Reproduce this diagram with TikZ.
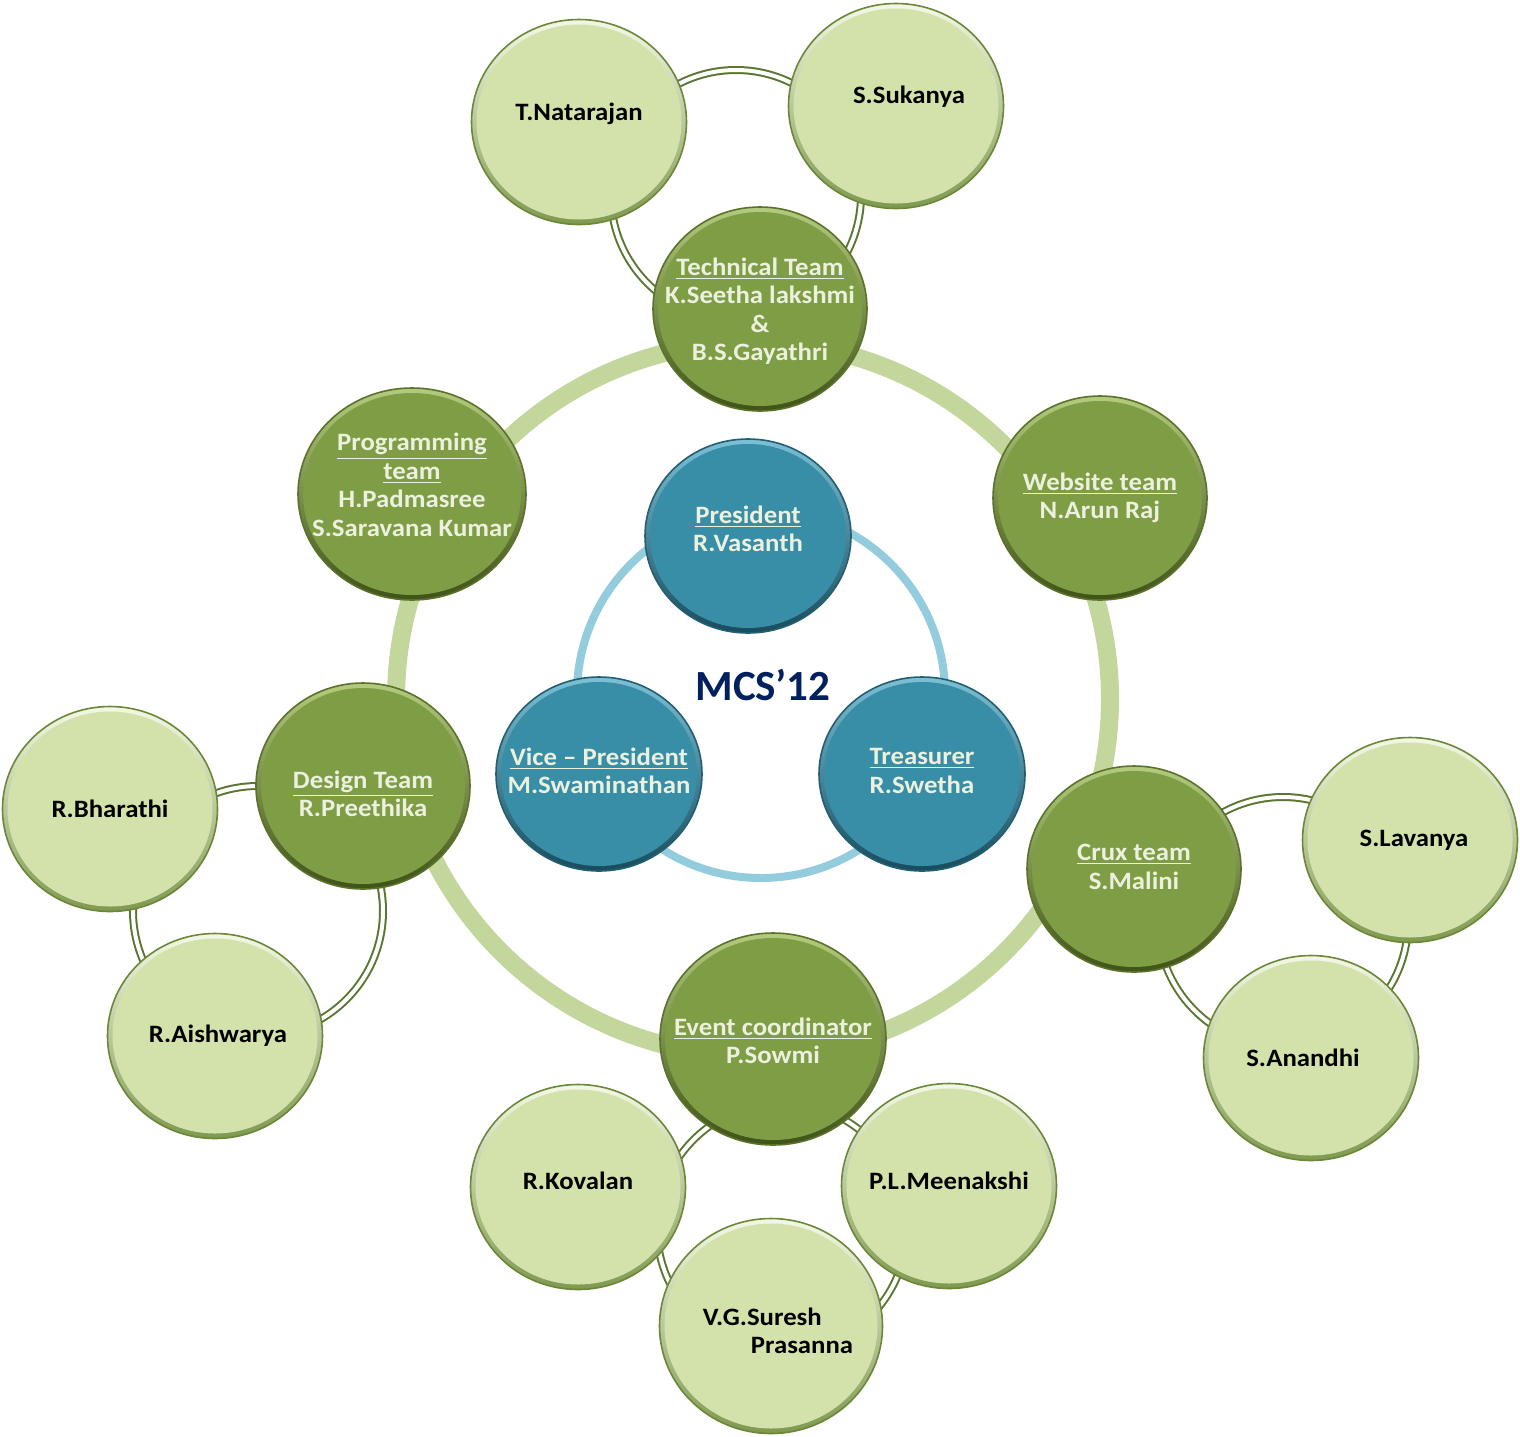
\documentclass[tikz,border=0pt]{standalone}
\usepackage{fontspec}
\setmainfont{Carlito}
\newfontfamily\namefont{Carlito}[FakeStretch=1.07, Ligatures=TeX]
\usetikzlibrary{shapes.geometric,calc}

\definecolor{ringgreen}{HTML}{C3D69B}
\definecolor{ringblue}{HTML}{93CDDD}
\definecolor{linkgreen}{HTML}{5B7630}
\definecolor{leadfill}{HTML}{7F9D44}
\definecolor{leadtop}{HTML}{B3CB7E}
\definecolor{leadbot}{HTML}{3F5219}
\definecolor{leadedge}{HTML}{5A7328}
\definecolor{memberfill}{HTML}{D3E2AA}
\definecolor{membertop}{HTML}{F3F8E6}
\definecolor{memberbot}{HTML}{7F9950}
\definecolor{memberedge}{HTML}{6C8737}
\definecolor{officefill}{HTML}{388DA7}
\definecolor{officetop}{HTML}{7CC0D6}
\definecolor{officebot}{HTML}{184C5C}
\definecolor{officeedge}{HTML}{235F72}
\definecolor{paletext}{HTML}{EBF1DE}
\definecolor{navy}{HTML}{002060}

\tikzset{
  ball/.style n args={4}{ellipse, inner sep=0pt, draw=#4, line width=0.8pt, fill=#1,
    path picture={
      \shade[top color=#2, bottom color=#3] (path picture bounding box.south west)
        rectangle (path picture bounding box.north east);
      \fill[#1] let \p1=(path picture bounding box.south west),
        \p2=(path picture bounding box.north east) in
        ($(\p1)!.5!(\p2)$) ellipse [x radius={(\x2-\x1)/2-2.5pt}, y radius={(\y2-\y1)/2-2.5pt}];
    }},
  leadball/.style={ball={leadfill}{leadtop}{leadbot}{leadedge}},
  memberball/.style={ball={memberfill}{membertop}{memberbot}{memberedge},
    minimum width=107.5pt, minimum height=102.5pt},
  officeball/.style={ball={officefill}{officetop}{officebot}{officeedge},
    minimum width=103pt, minimum height=97pt},
  nametext/.style={inner sep=0pt, align=center,
    font=\namefont\fontsize{12.5}{14.25}\selectfont\bfseries},
  leadtext/.style={nametext, text=paletext},
  membertext/.style={nametext, text=black},
  link/.style={draw=linkgreen, line width=1pt, double=white, double distance=2pt},
}

\begin{document}
\begin{tikzpicture}[x=0.5pt, y=-0.5pt]
    \fill[white] (0,0) rectangle (1520,1436);
    \useasboundingbox (0,0) rectangle (1520,1436);

    % centres of the rings
    \coordinate (hub) at (753,699);
    \coordinate (core) at (761,694);
    \coordinate (techring) at (736,195);
    \coordinate (designring) at (258,911);
    \coordinate (cruxring) at (1283,922);
    \coordinate (eventring) at (782,1228);

    % rings behind the circles
    \draw[ringgreen, line width=9pt] (hub) circle [radius=357];
    \draw[ringblue, line width=4pt] (core) circle [radius=184];
    \foreach \c in {techring, designring, cruxring, eventring}
        \draw[link] (\c) circle [radius=125];

    % office bearers (blue)
    \foreach \name/\x/\y/\dy/\txt in {
        pres/748/536/3.5/{\underline{President}\\R.Vasanth},
        vice/599/774/1.5/{\underline{Vice -- President}\\M.Swaminathan},
        treas/922/774/1.5/{\underline{Treasurer}\\R.Swetha}%
    }{
        \node[officeball] (\name) at (\x,\y) {};
        \node[leadtext] (\name-txt) at ([yshift=\dy pt]\name.center) {\txt};
    }

    \node[font=\fontsize{21.5}{26}\selectfont\bfseries, text=navy] (title) at (763,685) {MCS’12};

    % team leads (dark green)
    \foreach \name/\x/\y/\w/\h/\dy/\txt in {
        tech/760/309/107/102/-1/{\underline{Technical Team}\\K.Seetha lakshmi\\\&\\B.S.Gayathri},
        prog/412/494/114/106/4.5/{\underline{Programming}\\\underline{team}\\H.Padmasree\\S.Saravana Kumar},
        web/1100/498/107/102/0/{\underline{Website team}\\N.Arun Raj},
        design/363/786/107/103/-4/{\underline{Design Team}\\R.Preethika},
        crux/1134/869/107/103/1/{\underline{Crux team}\\S.Malini},
        event/773/1039/113/106/-1/{\underline{Event coordinator}\\P.Sowmi}%
    }{
        \node[leadball, minimum width=\w pt, minimum height=\h pt] (\name) at (\x,\y) {};
        \node[leadtext] (\name-txt) at ([yshift=\dy pt]\name.center) {\txt};
    }

    % team members (light green)
    \foreach \name/\x/\y/\dx/\dy/\txt in {
        natarajan/579/122/0/4/T.Natarajan,
        sukanya/896/106/6.5/4.5/S.Sukanya,
        bharathi/110/809/0/0/R.Bharathi,
        aishwarya/215/1036/1.5/0/R.Aishwarya,
        lavanya/1410/840/2/0/S.Lavanya,
        anandhi/1311/1058/-4/0/S.Anandhi,
        kovalan/578/1187/0/3/R.Kovalan,
        meenakshi/949/1186/0/2.5/P.L.Meenakshi%
    }{
        \node[memberball] (\name) at (\x,\y) {};
        \node[membertext] (\name-txt) at ([xshift=\dx pt, yshift=\dy pt]\name.center) {\txt};
    }
    \node[memberball, minimum width=111.5pt, minimum height=107.5pt] (suresh) at (771,1326) {};
    \node[membertext, align=left] (suresh-txt) at ([xshift=3.5pt, yshift=-2.5pt]suresh.center)
        {V.G.Suresh\\\hspace*{24pt}Prasanna};
\end{tikzpicture}
\end{document}
